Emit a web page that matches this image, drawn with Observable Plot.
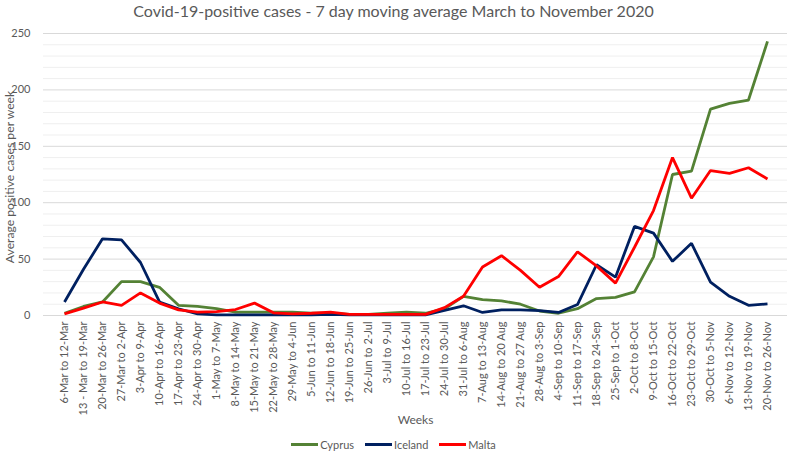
<!DOCTYPE html>
<html>
<head>
<meta charset="utf-8">
<script src="https://cdn.jsdelivr.net/npm/d3@7"></script>
<script src="https://cdn.jsdelivr.net/npm/@observablehq/plot@0.6"></script>
<style>
  html, body { margin: 0; padding: 0; background: #fff; }
  body { position: relative; width: 787px; height: 462px; overflow: hidden; font-family: Lato, "Open Sans", sans-serif; color: #595959; }
  #title { height: 22px; line-height: 22px; text-align: center; font-size: 16px; color: #595959; }
  #legend { display: flex; justify-content: center; align-items: center; gap: 11px; font-size: 11px; height: 24px; color: #595959; }
  .item { display: flex; align-items: center; }
  .sw { display: inline-block; width: 27px; height: 3px; margin-right: 2px; }
  #ylabel { position: absolute; left: 9px; top: 177px; transform: translate(-50%, -50%) rotate(-90deg); white-space: nowrap; font-size: 12.2px; color: #595959; }
</style>
</head>
<body>
<div id="title">Covid-19-positive cases - 7 day moving average March to November 2020</div>
<div id="chart"></div>
<div id="legend"></div>
<div id="ylabel">Average positive cases per week</div>
<script>
const weeks = ["6-Mar to 12-Mar", "13 - Mar to 19-Mar", "20-Mar to 26-Mar", "27-Mar to 2-Apr", "3-Apr to 9-Apr",
  "10-Apr to 16-Apr", "17-Apr to 23-Apr", "24-Apr to 30-Apr", "1-May to 7-May", "8-May to 14-May",
  "15-May to 21-May", "22-May to 28-May", "29-May to 4-Jun", "5-Jun to 11-Jun", "12-Jun to 18-Jun",
  "19-Jun to 25-Jun", "26-Jun to 2-Jul", "3-Jul to 9-Jul", "10-Jul to 16-Jul", "17-Jul to 23-Jul",
  "24-Jul to 30-Jul", "31-Jul to 6-Aug", "7-Aug to 13-Aug", "14-Aug to 20 Aug", "21-Aug to 27 Aug",
  "28-Aug to 3-Sep", "4-Sep to 10-Sep", "11-Sep to 17-Sep", "18-Sep to 24-Sep", "25-Sep to 1-Oct",
  "2-Oct to 8-Oct", "9-Oct to 15-Oct", "16-Oct to 22-Oct", "23-Oct to 29-Oct", "30-Oct to 5-Nov",
  "6-Nov to 12-Nov", "13-Nov to 19-Nov", "20-Nov to 26-Nov"];

const cyprus = [2, 8, 12, 30, 30, 25, 9, 8, 6, 3, 3, 3, 3, 2, 2, 1, 1, 2, 3, 2,
  6, 17, 14, 13, 10, 4, 2, 6, 15, 16, 21, 52, 125, 128, 183, 188, 191, 243];
const iceland = [12, 41, 68, 67, 47, 12, 6, 1.5, 0.5, 0.5, 0.5, 0.5, 0.5, 0.5, 1, 0.5, 0.5, 0.5, 0.5, 0.5,
  4.5, 8.6, 2.7, 5, 5, 4.4, 2.7, 9.7, 45, 34, 79, 73, 48, 64, 29.5, 17, 9, 10.3];
const malta = [1.5, 6.5, 12, 9, 20, 11, 5, 3, 3.5, 5.3, 11, 2.4, 1.5, 2, 3, 1, 1, 1, 1, 1,
  7, 17, 43, 53, 40, 25, 34.5, 56.5, 44, 28.7, 60.5, 93, 140, 104, 128.5, 126, 131, 121];

const seriesNames = ["Cyprus", "Iceland", "Malta"];
const seriesColors = ["#548235", "#002060", "#FF0000"];
const majorTicks = [0, 50, 100, 150, 200, 250];
const minorTicks = [10, 20, 30, 40, 60, 70, 80, 90, 110, 120, 130, 140, 160, 170, 180, 190, 210, 220, 230, 240];

const seriesValues = [cyprus, iceland, malta];
const data = seriesNames.flatMap((s, k) => weeks.map((w, i) => ({series: s, week: w, value: seriesValues[k][i]})));

const chart = Plot.plot({
  width: 787,
  height: 410,
  marginLeft: 43,
  marginRight: 0,
  marginTop: 11,
  marginBottom: 117,
  style: {fontFamily: "Lato, 'Open Sans', sans-serif", color: "#595959", background: "#fff"},
  x: {type: "point", domain: weeks, padding: 0.5},
  y: {domain: [0, 250]},
  color: {domain: seriesNames, range: seriesColors},
  marks: [
    Plot.ruleY(minorTicks, {stroke: "#efefef", strokeWidth: 1}),
    Plot.ruleY(majorTicks, {stroke: "#d9d9d9", strokeWidth: 1}),
    Plot.axisX({tickRotate: -90, tickSize: 0, tickPadding: 6, fontSize: 11, label: null, fill: "#595959"}),
    Plot.axisY({ticks: majorTicks, tickSize: 0, tickPadding: 13, fontSize: 11, label: null, fill: "#595959"}),
    Plot.text(["Weeks"], {frameAnchor: "bottom", dy: 108, fontSize: 12, fill: "#595959"}),
    Plot.line(data, {x: "week", y: "value", z: "series", stroke: "series", strokeWidth: 2.8, strokeLinejoin: "miter", strokeLinecap: "butt"})
  ]
});
document.getElementById("chart").appendChild(chart);

const legend = document.getElementById("legend");
seriesNames.forEach((s, k) => {
  const item = document.createElement("div");
  item.className = "item";
  const sw = document.createElement("span");
  sw.className = "sw";
  sw.style.background = seriesColors[k];
  item.appendChild(sw);
  item.appendChild(document.createTextNode(s));
  legend.appendChild(item);
});
</script>
</body>
</html>
